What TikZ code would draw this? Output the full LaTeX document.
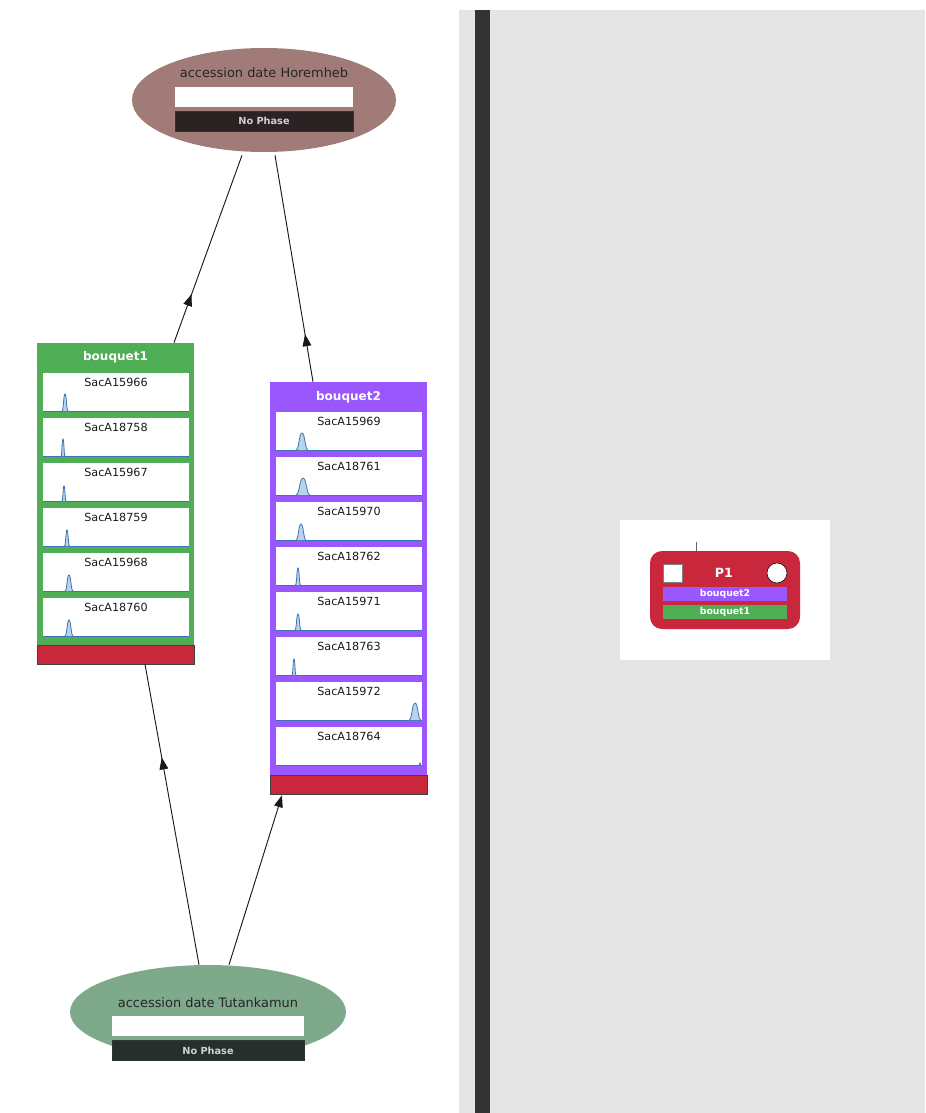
\documentclass[tikz,border=0pt]{standalone}
\usepackage{fontspec}
\setmainfont{DejaVu Sans}
\usetikzlibrary{calc,arrows.meta,positioning,shapes.geometric,decorations.markings}
\definecolor{bqgreen}{HTML}{4FAE55}
\definecolor{bqpurple}{HTML}{9B57FE}
\definecolor{phred}{HTML}{C9283C}
\definecolor{horbrown}{HTML}{A07B78}
\definecolor{tutgreen}{HTML}{7EA98B}
\definecolor{hordark}{HTML}{2B2323}
\definecolor{tutdark}{HTML}{26302A}
\definecolor{panelgray}{HTML}{E5E5E5}
\definecolor{bardark}{HTML}{333333}
\definecolor{sparkblue}{HTML}{3D73B5}
\definecolor{sparkfill}{HTML}{B9D3EA}
\newdimen\pxu \pxu=0.75pt
\tikzset{
  dateell/.style={ellipse,inner sep=0pt,minimum width=#1},
  datettl/.style={font=\fontsize{9.7}{11}\selectfont,text=black!85},
  whitebar/.style={fill=white,inner sep=0pt,minimum height=20\pxu},
  phasebar/.style={draw=black!80,inner sep=0pt,minimum height=20\pxu,text=white!82!black,font=\bfseries\fontsize{7.3}{9}\selectfont},
  bqbox/.style={inner sep=0pt,minimum width=157\pxu},
  bqhead/.style={text=white,font=\bfseries\fontsize{9}{11}\selectfont},
  bqfoot/.style={draw=black!75,fill=phred,inner sep=0pt,minimum width=157\pxu,minimum height=19\pxu},
  entry/.style={fill=white,inner sep=0pt,minimum width=146\pxu,minimum height=38\pxu},
  entrylbl/.style={font=\fontsize{8.4}{10}\selectfont,text=black!90},
  spark/.style={draw=sparkblue,fill=sparkfill,line width=0.6pt},
  link/.style={black!90,line width=0.7pt},
  tagbar/.style={inner sep=0pt,minimum width=124\pxu,minimum height=14\pxu,text=white,font=\bfseries\fontsize{7}{8}\selectfont},
  midarr/.style={postaction={decorate},decoration={markings,
    mark=at position #1 with {\arrow{Triangle[length=9pt,width=6.5pt]}}}}
}
\newcommand{\spk}[4]{\filldraw[spark] ({#1-#3/2},{#2}) .. controls ({#1-#3/4},{#2}) and ({#1-#3/4},{#2-#4}) .. ({#1},{#2-#4})
  .. controls ({#1+#3/4},{#2-#4}) and ({#1+#3/4},{#2}) .. ({#1+#3/2},{#2});}

\begin{document}
\begin{tikzpicture}[x=0.75pt,y=-0.75pt]
\useasboundingbox (0,0) rectangle (925,1113);
\fill[panelgray] (459,10) rectangle (925,1113);
\fill[bardark] (475,10) rectangle (490,1113);

\node[dateell=264\pxu,minimum height=104\pxu,fill=horbrown] (horemheb) at (264,100) {};
\node[datettl] (horttl) at (264,73) {accession date Horemheb};
\node[whitebar,minimum width=178\pxu] (horbar) at (264,97) {};
\node[phasebar,fill=hordark,minimum width=178\pxu] (horphase) at (264,121) {No Phase};

\node[dateell=276\pxu,minimum height=94\pxu,fill=tutgreen] (tut) at (208,1012) {};
\node[datettl] (tutttl) at (208,1003) {accession date Tutankamun};
\node[whitebar,minimum width=192\pxu] (tutbar) at (208,1026) {};
\node[phasebar,fill=tutdark,minimum width=192\pxu] (tutphase) at (208,1050.5) {No Phase};

\node[bqbox,fill=bqgreen,minimum height=302\pxu] (bq1) at (115.5,494) {};
\node[bqhead] (bq1ttl) at (115.5,357) {bouquet1};
\node[bqfoot] (bq1foot) at (115.5,654.5) {};
\foreach \nm/\sx/\sw/\sh [count=\i] in {SacA15966/65/6/17,SacA18758/63/4/17,SacA15967/64/4/15,
    SacA18759/67/5/16,SacA15968/69/8/16,SacA18760/69/8/16}{
  \node[entry] (bqa\i) at (116,{392+45*(\i-1)}) {};
  \node[entrylbl] at ($(bqa\i.north)+(0,10)$) {\nm};
  \draw[sparkblue,line width=0.6pt] (bqa\i.south west) -- (bqa\i.south east);
  \spk{\sx}{411+45*(\i-1)}{\sw}{\sh}
}

\node[bqbox,fill=bqpurple,minimum height=393\pxu] (bq2) at (348.5,578.5) {};
\node[bqhead] (bq2ttl) at (348.5,397) {bouquet2};
\node[bqfoot] (bq2foot) at (348.5,784.5) {};
\foreach \nm/\sx/\sw/\sh [count=\i] in {SacA15969/302/12/17,SacA18761/303/14/17,SacA15970/301/10/16,
    SacA18762/298/5/17,SacA15971/298/6/16,SacA18763/294/4/16,SacA15972/415/12/17,SacA18764/420/2/2}{
  \node[entry] (bqb\i) at (349,{431+45*(\i-1)}) {};
  \node[entrylbl] at ($(bqb\i.north)+(0,10)$) {\nm};
  \draw[sparkblue,line width=0.6pt] (bqb\i.south west) -- (bqb\i.south east);
  \spk{\sx}{450+45*(\i-1)}{\sw}{\sh}
}

\draw[link,midarr=0.26] ($(bq1.north)+(58.5,0)$) -- ($(horemheb.south)+(-22,3)$);
\draw[link,midarr=0.21] ($(bq2.north)+(-35.5,0)$) -- ($(horemheb.south)+(11,3)$);
\draw[link,midarr=0.69] ($(tut.north)+(-9,0)$) -- ($(bq1foot.south)+(29.5,0)$);
\draw[link,-{Triangle[length=9pt,width=6.5pt]}] ($(tut.north)+(21,0)$) -- ($(bq2foot.south)+(-66.5,1)$);

\node[fill=white,inner sep=0pt,minimum width=210\pxu,minimum height=140\pxu] (card) at (725,590) {};
\node[fill=phred,rounded corners=12\pxu,inner sep=0pt,minimum width=150\pxu,minimum height=78\pxu] (p1) at (725,590) {};
\coordinate (p1tag) at ($(p1.north)+(-29,-9)$);
\draw[black!60,line width=0.6pt] (p1tag) -- (p1tag |- p1.north);
\node[draw=black!50,fill=white,inner sep=0pt,minimum width=19\pxu,minimum height=18\pxu] (p1box) at (672.5,573) {};
\node[draw=black,fill=white,circle,inner sep=0pt,minimum size=20\pxu] (p1dot) at (777,573) {};
\node[text=white,font=\bfseries\fontsize{9.5}{11}\selectfont] (p1ttl) at (724,573) {P1};
\node[tagbar,fill=bqpurple] (p1bq2) at (725,594) {bouquet2};
\node[tagbar,fill=bqgreen] (p1bq1) at (725,612) {bouquet1};
\end{tikzpicture}
\end{document}
